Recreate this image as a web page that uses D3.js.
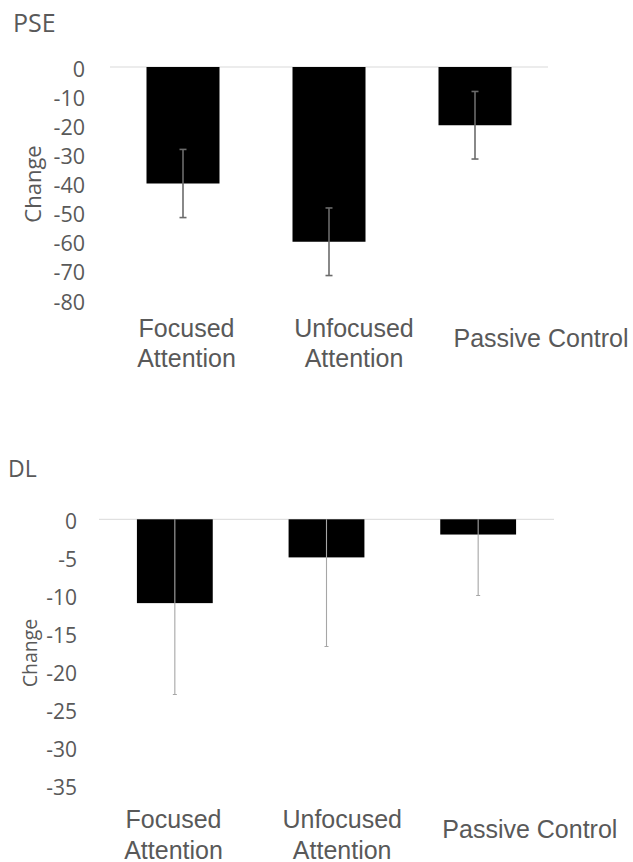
<!DOCTYPE html>
<html>
<head>
<meta charset="utf-8">
<script src="https://cdn.jsdelivr.net/npm/d3@7"></script>
<style>
  html, body { margin: 0; padding: 0; background: #fff; }
  svg { display: block; }
</style>
</head>
<body>
<script>
// Conditions shared by both panels
const categories = ["Focused Attention", "Unfocused Attention", "Passive Control"];
const categoryLines = [["Focused", "Attention"], ["Unfocused", "Attention"], ["Passive Control"]];

// PSE panel: mean change and error
const pseValues = [-40, -60, -20];
const pseErrors = [11.7, 11.6, 11.6];
const pseTicks = [0, -10, -20, -30, -40, -50, -60, -70, -80];

// DL panel: mean change and error
const dlValues = [-11, -5, -2];
const dlErrors = [12, 11.7, 8];
const dlTicks = [0, -5, -10, -15, -20, -25, -30, -35];

const W = 633, H = 862;
const svg = d3.select("body").append("svg").attr("width", W).attr("height", H);

const tickFont = "'Open Sans', sans-serif";
const catFont = "'Liberation Sans', Arial, sans-serif";
const textColor = "#595959";

function drawPanel(cfg) {
  const g = svg.append("g");

  const x = d3.scaleBand()
    .domain(categories)
    .range([cfg.left, cfg.right])
    .paddingInner(0.5)
    .paddingOuter(0.25);

  const y = d3.scaleLinear()
    .domain([d3.min(cfg.ticks), 0])
    .range([cfg.bottom, cfg.top]);

  // panel title
  g.append("text")
    .attr("x", cfg.titleX).attr("y", cfg.titleY)
    .attr("font-family", tickFont).attr("font-size", cfg.titleSize)
    .attr("fill", textColor)
    .text(cfg.title);

  // zero gridline
  g.append("line")
    .attr("x1", cfg.left).attr("x2", cfg.right)
    .attr("y1", y(0)).attr("y2", y(0))
    .attr("stroke", "#d9d9d9").attr("stroke-width", 1);

  // value axis labels
  const axis = d3.axisLeft(y)
    .tickValues(cfg.ticks)
    .tickSize(0)
    .tickPadding(cfg.tickPad)
    .tickFormat(d => String(d));
  const ax = g.append("g")
    .attr("transform", `translate(${cfg.left},0)`)
    .call(axis);
  ax.select(".domain").remove();
  ax.selectAll("text")
    .attr("font-family", tickFont)
    .attr("font-size", cfg.tickSize)
    .attr("fill", textColor)
    .attr("dy", "0.42em");

  // axis title
  g.append("text")
    .attr("transform", `translate(${cfg.yTitleX},${cfg.yTitleY}) rotate(-90)`)
    .attr("text-anchor", "middle")
    .attr("font-family", tickFont).attr("font-size", cfg.yTitleSize)
    .attr("fill", textColor)
    .text("Change");

  // bars
  g.selectAll("rect.bar")
    .data(categories)
    .join("rect")
    .attr("class", "bar")
    .attr("x", d => x(d))
    .attr("width", x.bandwidth())
    .attr("y", y(0))
    .attr("height", (d, i) => y(cfg.values[i]) - y(0))
    .attr("fill", "#000");

  // error bars, clipped to the plotting area
  const clipId = "clip-" + cfg.title;
  g.append("clipPath").attr("id", clipId)
    .append("rect")
    .attr("x", cfg.left).attr("y", y(0))
    .attr("width", cfg.right - cfg.left)
    .attr("height", cfg.bottom - y(0) + 2);

  const eb = g.append("g").attr("clip-path", `url(#${clipId})`);
  categories.forEach((c, i) => {
    const cx = x(c) + x.bandwidth() / 2;
    const hi = cfg.values[i] + cfg.errors[i];
    const lo = cfg.values[i] - cfg.errors[i];
    eb.append("line")
      .attr("x1", cx).attr("x2", cx)
      .attr("y1", y(hi)).attr("y2", y(lo))
      .attr("stroke", cfg.errColor).attr("stroke-width", cfg.errWidth);
    [hi, lo].forEach(v => {
      eb.append("line")
        .attr("x1", cx - cfg.capHalf).attr("x2", cx + cfg.capHalf)
        .attr("y1", y(v)).attr("y2", y(v))
        .attr("stroke", cfg.errColor).attr("stroke-width", cfg.errWidth);
    });
  });

  // category labels
  categories.forEach((c, i) => {
    const cx = x(c) + x.bandwidth() / 2 + cfg.labelShift[i];
    const lines = categoryLines[i];
    const t = g.append("text")
      .attr("text-anchor", "middle")
      .attr("font-family", catFont)
      .attr("font-size", 25)
      .attr("fill", textColor);
    lines.forEach((ln, k) => {
      t.append("tspan")
        .attr("x", cx)
        .attr("y", lines.length === 1 ? cfg.singleLabelY : cfg.labelY + k * cfg.labelGap)
        .text(ln);
    });
  });
}

drawPanel({
  title: "PSE", titleX: 13, titleY: 32, titleSize: 25,
  values: pseValues, errors: pseErrors, ticks: pseTicks,
  left: 110, right: 548, top: 67, bottom: 300,
  tickPad: 25, tickSize: 21.5,
  yTitleX: 41, yTitleY: 184, yTitleSize: 22,
  errColor: "#6b6b6b", errWidth: 1.6, capHalf: 3.5,
  labelShift: [3.5, 25, 66],
  labelY: 337, labelGap: 29.5, singleLabelY: 346.5
});

drawPanel({
  title: "DL", titleX: 8, titleY: 477, titleSize: 23,
  values: dlValues, errors: dlErrors, ticks: dlTicks,
  left: 99, right: 554, top: 519.3, bottom: 786,
  tickPad: 22, tickSize: 21,
  yTitleX: 37, yTitleY: 653, yTitleSize: 19.5,
  errColor: "#a6a6a6", errWidth: 1.1, capHalf: 2,
  labelShift: [-1.3, 15.7, 51.7],
  labelY: 828, labelGap: 30.5, singleLabelY: 837.5
});
</script>
</body>
</html>
